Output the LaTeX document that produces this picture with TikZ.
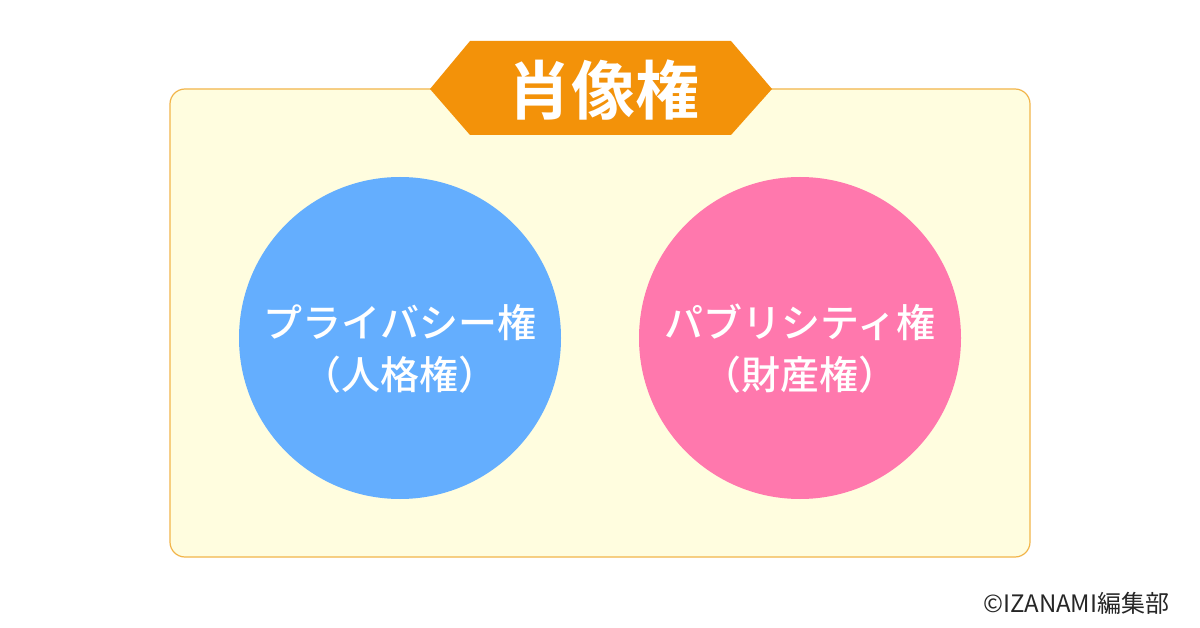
\documentclass[tikz,border=0pt]{standalone}
\usepackage{fontspec}
\setmainfont{Noto Sans CJK JP}
\newfontfamily\jpbold{Noto Sans CJK JP Bold}
\newfontfamily\jpmedium{Noto Sans CJK JP Medium}
\definecolor{bannerorange}{HTML}{F39209}
\definecolor{boxfill}{HTML}{FFFDDF}
\definecolor{boxline}{HTML}{F2B54A}
\definecolor{privblue}{HTML}{64AEFE}
\definecolor{pubpink}{HTML}{FF78AD}
\begin{document}
\begin{tikzpicture}[x=1pt,y=-1pt,
  circtext/.style={text=white,font=\fontsize{39}{52}\selectfont\jpmedium,align=center}]

\useasboundingbox (0,0) rectangle (1200,628);
\fill[white] (0,0) rectangle (1200,628);

% outer box
\draw[boxline,fill=boxfill,line width=1.2pt,rounded corners=15pt] (170,89) rectangle (1030,557);

% title banner
\coordinate (t) at (603,90);
\fill[bannerorange] (430,89) -- (470,41) -- (731,41) -- (772,89) -- (731,135) -- (470,135) -- cycle;
\node[text=white,font=\fontsize{64}{66}\selectfont\jpbold] (title) at (t) {肖像権};

% two circles
\coordinate (l) at (400,338);
\coordinate (r) at (800,338);
\fill[privblue] (l) circle (161);
\fill[pubpink] (r) circle (161);
\node[circtext] (priv) at ([yshift=-11]l) {プライバシー権\\（人格権）};
\node[circtext] (pub) at ([yshift=-11]r) {パブリシティ権\\（財産権）};

\node[anchor=east,font=\fontsize{24}{26}\selectfont,text=black!85] (copy) at (1173,603) {©IZANAMI編集部};

\end{tikzpicture}
\end{document}
